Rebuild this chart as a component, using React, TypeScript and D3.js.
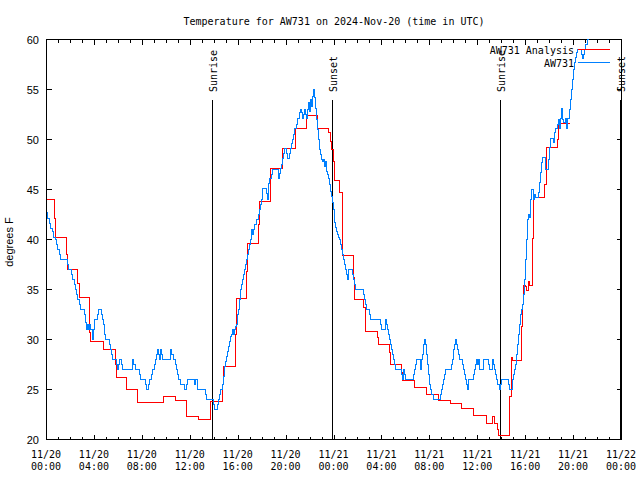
import { curveStepAfter, line, scaleLinear, scaleUtc, select, utcFormat, utcHour } from 'd3';
import { useEffect, useRef } from 'react';

// minutes after 2024-11-20 00:00 UTC, temperature in F
const analysisSeries: [number, number][] = [
  [0, 44.0], [40, 42.1], [45, 40.2], [100, 38.5], [105, 37.0], [155, 35.6], [165, 34.2],
  [215, 30.7], [220, 29.8], [285, 29.0], [345, 27.5], [350, 26.2], [400, 25.0], [455, 23.7],
  [585, 24.3], [645, 23.9], [700, 22.3], [760, 22.0], [820, 23.8], [880, 25.5], [885, 27.3],
  [945, 30.5], [950, 34.1], [1000, 36.8], [1005, 39.6], [1060, 41.5], [1065, 43.8], [1120, 47.1],
  [1180, 49.1], [1245, 51.1], [1300, 52.4], [1355, 51.1], [1410, 50.7], [1420, 49.8], [1425, 49.0],
  [1435, 47.8], [1440, 46.3], [1445, 45.9], [1470, 44.7], [1485, 38.4], [1540, 36.2], [1545, 34.0],
  [1590, 33.2], [1600, 30.8], [1660, 30.2], [1665, 29.5], [1720, 28.7], [1725, 27.5], [1780, 26.7],
  [1785, 25.9], [1845, 25.2], [1905, 24.5], [1965, 23.9], [2025, 23.6], [2080, 23.1], [2140, 22.4],
  [2205, 21.6], [2235, 22.3], [2245, 21.6], [2260, 21.0], [2265, 20.4], [2320, 24.3], [2330, 28.2],
  [2335, 27.9], [2380, 31.3], [2385, 33.5], [2390, 35.4], [2400, 35.3], [2405, 34.9], [2415, 35.8],
  [2420, 35.4], [2435, 40.1], [2440, 44.2], [2495, 45.5], [2505, 49.2], [2560, 50.0], [2565, 51.6],
  [2620, 51.6]
];

const obsSeries: [number, number][] = [
  [0, 42.7], [5, 42.1], [15, 41.6], [20, 41.1], [30, 40.8], [35, 40.2], [45, 40.0], [50, 39.5],
  [55, 39.0], [65, 38.5], [70, 38.0], [105, 37.5], [110, 37.0], [125, 36.5], [130, 36.0], [140, 35.5],
  [145, 35.0], [150, 34.5], [155, 34.0], [165, 33.5], [170, 33.0], [190, 32.5], [195, 31.7], [200, 31.0],
  [205, 31.5], [210, 31.0], [215, 31.5], [220, 31.0], [230, 30.0], [235, 31.0], [240, 32.0], [255, 32.5],
  [260, 33.0], [275, 32.5], [280, 32.0], [285, 31.5], [290, 30.5], [295, 30.0], [315, 29.5], [320, 29.0],
  [325, 28.5], [330, 28.0], [350, 27.5], [355, 27.0], [360, 27.5], [365, 28.0], [375, 27.5], [380, 27.0],
  [430, 28.0], [435, 27.5], [445, 27.0], [465, 26.5], [470, 26.0], [495, 25.5], [500, 25.0], [510, 25.5],
  [515, 26.0], [525, 26.5], [530, 27.0], [540, 27.5], [545, 28.0], [550, 28.5], [555, 29.0], [560, 28.5],
  [565, 28.0], [570, 29.0], [575, 28.5], [580, 28.0], [620, 29.0], [625, 28.5], [635, 28.0], [645, 27.5],
  [650, 27.0], [655, 26.5], [660, 26.0], [670, 25.5], [690, 25.0], [700, 25.5], [705, 26.0], [740, 25.5],
  [745, 26.0], [755, 25.0], [795, 24.5], [800, 24.0], [835, 23.5], [840, 23.0], [855, 23.5], [860, 24.0],
  [865, 24.5], [870, 25.0], [880, 25.5], [885, 26.3], [890, 27.3], [895, 27.8], [900, 28.3], [905, 28.8],
  [910, 29.3], [915, 29.8], [920, 30.3], [925, 30.5], [930, 31.0], [935, 30.5], [940, 31.0], [945, 31.3],
  [950, 31.5], [955, 32.5], [960, 33.0], [965, 34.0], [970, 35.0], [975, 35.5], [980, 36.0], [985, 36.5],
  [990, 37.0], [995, 37.5], [1000, 38.0], [1005, 38.5], [1010, 39.0], [1015, 39.5], [1020, 40.0],
  [1025, 41.0], [1030, 40.5], [1035, 41.0], [1040, 41.5], [1050, 42.0], [1060, 42.5], [1065, 43.0],
  [1070, 43.5], [1075, 44.0], [1080, 45.1], [1100, 44.6], [1105, 44.0], [1110, 45.6], [1115, 46.1],
  [1125, 46.5], [1130, 47.0], [1160, 46.1], [1165, 46.6], [1170, 47.1], [1175, 47.5], [1180, 48.1],
  [1185, 48.6], [1190, 49.1], [1200, 48.6], [1205, 48.1], [1215, 48.6], [1220, 49.1], [1225, 49.6],
  [1230, 50.0], [1235, 50.5], [1240, 51.1], [1250, 51.5], [1255, 52.1], [1265, 52.7], [1270, 53.0],
  [1275, 52.7], [1280, 52.1], [1285, 52.5], [1290, 53.0], [1295, 52.5], [1300, 52.1], [1305, 53.0],
  [1310, 53.7], [1315, 52.8], [1320, 54.0], [1325, 53.3], [1330, 54.3], [1335, 55.0], [1340, 54.2],
  [1345, 53.1], [1350, 52.0], [1355, 51.0], [1360, 50.0], [1365, 49.0], [1370, 48.5], [1375, 48.0],
  [1380, 47.8], [1385, 48.0], [1390, 47.3], [1395, 47.8], [1400, 46.8], [1405, 46.5], [1410, 46.1],
  [1415, 45.5], [1420, 44.8], [1425, 44.3], [1430, 43.7], [1435, 43.0], [1440, 42.3], [1445, 41.7],
  [1450, 41.2], [1455, 40.8], [1460, 40.5], [1465, 40.2], [1470, 40.0], [1475, 39.5], [1480, 39.0],
  [1485, 38.5], [1490, 38.0], [1495, 37.5], [1500, 37.0], [1505, 36.5], [1510, 36.0], [1515, 37.0],
  [1535, 36.5], [1540, 36.0], [1545, 35.5], [1550, 35.0], [1590, 34.5], [1595, 34.0], [1600, 33.5],
  [1605, 33.0], [1620, 32.5], [1625, 32.0], [1675, 31.5], [1680, 31.0], [1700, 32.0], [1705, 31.5],
  [1710, 31.0], [1715, 30.5], [1720, 30.0], [1725, 29.5], [1730, 29.0], [1735, 28.5], [1740, 28.0],
  [1745, 27.5], [1750, 27.0], [1780, 26.5], [1785, 26.0], [1790, 27.0], [1795, 26.5], [1800, 26.0],
  [1840, 26.5], [1845, 27.0], [1850, 27.5], [1855, 28.0], [1875, 27.0], [1880, 28.0], [1885, 28.5],
  [1890, 29.5], [1895, 30.0], [1900, 29.5], [1905, 28.5], [1910, 27.5], [1915, 26.5], [1920, 25.5],
  [1925, 25.0], [1930, 24.5], [1940, 24.0], [1975, 24.5], [1980, 25.0], [1985, 25.5], [1990, 26.0],
  [1995, 26.5], [2000, 27.0], [2030, 27.5], [2035, 28.0], [2040, 29.0], [2045, 29.5], [2050, 30.0],
  [2055, 29.5], [2060, 29.0], [2065, 28.5], [2070, 28.0], [2085, 27.5], [2090, 27.0], [2095, 26.5],
  [2100, 26.0], [2105, 25.5], [2110, 25.0], [2115, 26.0], [2140, 26.5], [2145, 27.0], [2150, 27.5],
  [2155, 28.0], [2160, 27.5], [2165, 28.0], [2170, 27.0], [2190, 28.0], [2215, 27.5], [2220, 27.0],
  [2235, 28.0], [2240, 27.5], [2245, 27.0], [2250, 26.5], [2255, 26.0], [2260, 25.5], [2270, 25.0],
  [2275, 25.5], [2280, 26.0], [2315, 25.5], [2320, 25.0], [2335, 26.0], [2340, 26.5], [2345, 27.0],
  [2350, 27.5], [2355, 28.5], [2360, 29.5], [2365, 30.5], [2370, 31.5], [2375, 32.5], [2380, 33.0],
  [2385, 33.5], [2390, 34.5], [2395, 36.0], [2400, 38.0], [2405, 40.0], [2410, 42.0], [2415, 42.5],
  [2420, 42.2], [2425, 44.0], [2430, 45.0], [2440, 44.0], [2445, 44.5], [2450, 44.2], [2465, 44.7],
  [2470, 45.7], [2475, 46.7], [2480, 47.7], [2485, 48.2], [2500, 47.0], [2515, 48.0], [2520, 49.2],
  [2525, 50.1], [2540, 49.7], [2545, 50.7], [2550, 51.1], [2560, 51.5], [2565, 52.0], [2570, 51.1],
  [2575, 52.1], [2580, 53.1], [2585, 52.0], [2590, 51.7], [2600, 52.1], [2605, 51.1], [2610, 52.1],
  [2620, 53.0], [2625, 54.0], [2630, 55.0], [2635, 56.0], [2640, 57.0], [2645, 57.7], [2650, 58.2],
  [2655, 58.7], [2660, 59.0], [2680, 58.5], [2685, 58.1], [2690, 58.5], [2695, 59.0], [2700, 59.5],
  [2710, 60.0], [2715, 60.6], [2720, 61.2], [2730, 62.0]
];

const sunLabels = ['Sunrise', 'Sunset', 'Sunrise', 'Sunset'];
const sunMinutes = [832, 1433, 2274, 2875];

const yTicks = [20, 25, 30, 35, 40, 45, 50, 55, 60];
const seriesNames = ['AW731 Analysis', 'AW731'];
const seriesColors = ['#ff0000', '#0080ff'];

const START = Date.UTC(2024, 10, 20, 0, 0);
const END = Date.UTC(2024, 10, 22, 0, 0);

const MONO = '"DejaVu Sans Mono", monospace';
const SANS = '"Liberation Sans", Arial, sans-serif';

function App(): JSX.Element {
  const svgRef = useRef<SVGSVGElement | null>(null);

  const left = 46;
  const right = 621;
  const top = 40;
  const bottom = 440;

  useEffect(() => {
    if (svgRef.current) svgRef.current.innerHTML = '';
    const svg = select(svgRef.current);

    const x = scaleUtc().domain([new Date(START), new Date(END)]).range([left, right]);
    const y = scaleLinear().domain([20, 60]).range([bottom, top]);
    const t = (m: number) => new Date(START + m * 60000);
    const px = (v: number) => Math.round(v) + 0.5;
    const py = (v: number) => Math.round(v) - 0.5;

    svg.append('rect').attr('width', 640).attr('height', 480).attr('fill', '#fff');

    svg
      .append('defs')
      .append('clipPath')
      .attr('id', 'plotclip')
      .append('rect')
      .attr('x', left)
      .attr('y', top - 1)
      .attr('width', right - left + 1)
      .attr('height', bottom - top + 1);

    // title
    svg
      .append('text')
      .attr('x', (left + right) / 2 + 0.5)
      .attr('y', 25)
      .attr('text-anchor', 'middle')
      .attr('font-family', MONO)
      .attr('font-size', '10px')
      .text('Temperature for AW731 on 2024-Nov-20 (time in UTC)');

    // y label
    svg
      .append('text')
      .attr('transform', `translate(13, ${(top + bottom) / 2 + 2}) rotate(-90)`)
      .attr('text-anchor', 'middle')
      .attr('font-family', SANS)
      .attr('font-size', '11px')
      .text('degrees F');

    const axes = svg.append('g').attr('stroke', '#000').attr('stroke-width', 1).attr('shape-rendering', 'crispEdges');

    // y ticks and labels
    yTicks.forEach((v) => {
      const yy = py(y(v));
      axes.append('line').attr('x1', px(left)).attr('x2', px(left) + 5).attr('y1', yy).attr('y2', yy);
      axes.append('line').attr('x1', px(right)).attr('x2', px(right) - 5).attr('y1', yy).attr('y2', yy);
      svg
        .append('text')
        .attr('x', 39)
        .attr('y', y(v) + 4)
        .attr('text-anchor', 'end')
        .attr('font-family', SANS)
        .attr('font-size', '11px')
        .text(v);
    });

    // x ticks
    const minor = x.ticks(utcHour.every(1));
    const major = x.ticks(utcHour.every(4));
    minor.forEach((d) => {
      const isMajor = d.getUTCHours() % 4 === 0;
      const len = isMajor ? 5 : 3;
      const xx = px(x(d));
      axes.append('line').attr('x1', xx).attr('x2', xx).attr('y1', py(bottom)).attr('y2', py(bottom) - len);
      axes.append('line').attr('x1', xx).attr('x2', xx).attr('y1', py(top)).attr('y2', py(top) + len);
    });

    const fmtDay = utcFormat('%m/%d');
    const fmtTime = utcFormat('%H:%M');
    major.forEach((d) => {
      const label = svg
        .append('text')
        .attr('text-anchor', 'middle')
        .attr('font-family', MONO)
        .attr('font-size', '10px');
      label.append('tspan').attr('x', x(d)).attr('y', 458).text(fmtDay(d));
      label.append('tspan').attr('x', x(d)).attr('y', 470).text(fmtTime(d));
    });

    // data
    const stepLine = line<[number, number]>()
      .x((d) => x(t(d[0])))
      .y((d) => y(d[1]))
      .curve(curveStepAfter);

    const plot = svg.append('g').attr('clip-path', 'url(#plotclip)');
    [analysisSeries, obsSeries].forEach((series, i) => {
      plot
        .append('path')
        .datum(series)
        .attr('d', stepLine)
        .attr('fill', 'none')
        .attr('stroke', seriesColors[i])
        .attr('stroke-width', 1)
        .attr('shape-rendering', 'crispEdges')
        .attr('transform', 'translate(0.5, -0.5)');
    });

    // sunrise / sunset markers
    sunMinutes.forEach((m, i) => {
      const xx = px(x(t(m)));
      axes.append('line').attr('x1', xx).attr('x2', xx).attr('y1', 100).attr('y2', py(bottom));
      svg
        .append('text')
        .attr('transform', `translate(${xx + 4}, 92) rotate(-90)`)
        .attr('font-family', MONO)
        .attr('font-size', '10px')
        .text(sunLabels[i]);
    });

    // border
    axes
      .append('rect')
      .attr('x', px(left))
      .attr('y', py(top))
      .attr('width', right - left)
      .attr('height', bottom - top)
      .attr('fill', 'none');

    // legend
    seriesNames.forEach((name, i) => {
      const ly = 50 + i * 13;
      svg
        .append('text')
        .attr('x', 574)
        .attr('y', ly + 4)
        .attr('text-anchor', 'end')
        .attr('font-family', MONO)
        .attr('font-size', '10px')
        .text(name);
      svg
        .append('line')
        .attr('x1', 578)
        .attr('x2', 610)
        .attr('y1', ly - 0.5)
        .attr('y2', ly - 0.5)
        .attr('stroke', seriesColors[i])
        .attr('stroke-width', 1)
        .attr('shape-rendering', 'crispEdges');
    });
  }, []);

  return (
    <svg
      ref={svgRef}
      width={640}
      height={480}
      style={{ position: 'absolute', left: 0, top: 0, display: 'block' }}
    />
  );
}

export default App;
